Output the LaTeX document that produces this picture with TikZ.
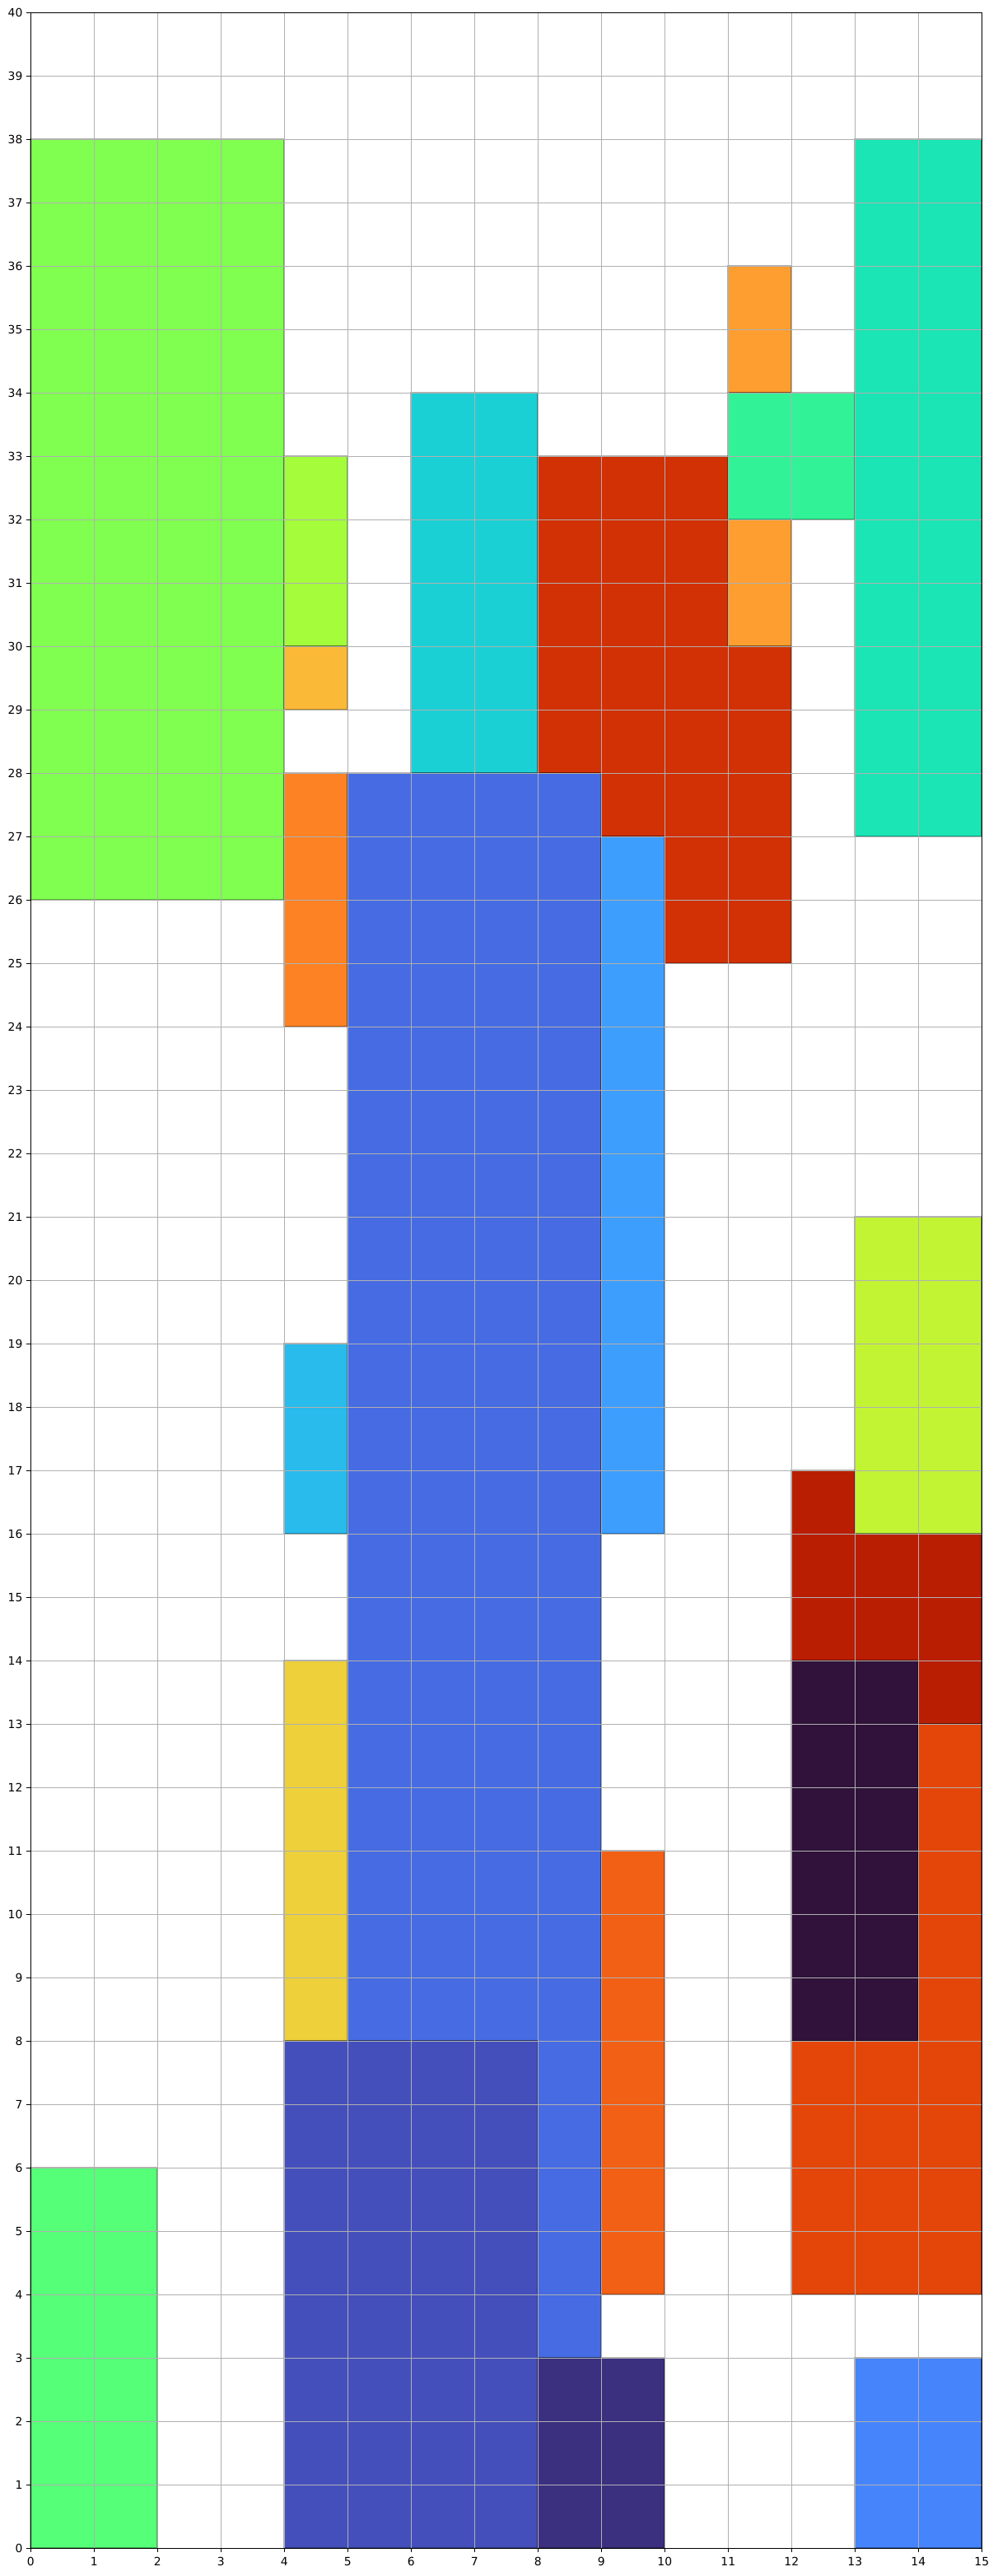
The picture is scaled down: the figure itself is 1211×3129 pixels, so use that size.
\documentclass[tikz,border=0pt]{standalone}
\usepackage{fontspec}
\setmainfont{DejaVu Sans}
\definecolor{lgreen}{HTML}{80FF50}
\definecolor{bgreen}{HTML}{55FF78}
\definecolor{tealr}{HTML}{1BE5B5}
\definecolor{tealg}{HTML}{32F298}
\definecolor{orng}{HTML}{FE9E30}
\definecolor{cyanb}{HTML}{1BD0D5}
\definecolor{redm}{HTML}{D23005}
\definecolor{ygreen}{HTML}{A4FC3B}
\definecolor{yorng}{HTML}{FBB938}
\definecolor{orngb}{HTML}{FD8224}
\definecolor{royal}{HTML}{466BE3}
\definecolor{lblue}{HTML}{3E9EFE}
\definecolor{skyb}{HTML}{28BBEC}
\definecolor{yell}{HTML}{EDD03A}
\definecolor{orngc}{HTML}{F26016}
\definecolor{limeg}{HTML}{C2F434}
\definecolor{dred}{HTML}{BA1E02}
\definecolor{dpurp}{HTML}{30123B}
\definecolor{orred}{HTML}{E4460A}
\definecolor{bluebr}{HTML}{4684FC}
\definecolor{slateb}{HTML}{444FBC}
\definecolor{dblue}{HTML}{3B2F80}
\definecolor{gridc}{HTML}{B0B0B0}
\tikzset{
  cell/.style={draw=black, draw opacity=0.3, line width=2pt},
  gridline/.style={draw=gridc, line width=1.1pt},
  tickline/.style={draw=black, line width=1.1pt},
  spine/.style={draw=black, line width=1.1pt},
  lab/.style={inner sep=0pt, font=\fontsize{13.9}{16}\selectfont}
}
\begin{document}
\begin{tikzpicture}[x=1pt,y=1pt]
\useasboundingbox (0,0) rectangle (1211,3129);
\fill[white] (0,0) rectangle (1211,3129);
\begin{scope}[shift={(37.3,33.7)}, x=77pt, y=77pt]
  % cells
  \fill[lgreen, cell] (0,26) rectangle (4,38);
  \fill[bgreen, cell] (0,0) rectangle (2,6);
  \fill[tealr, cell] (13,27) rectangle (15,38);
  \fill[orng, cell] (11,34) rectangle (12,36);
  \fill[orng, cell] (11,30) rectangle (12,32);
  \fill[tealg, cell] (11,32) rectangle (13,34);
  \fill[cyanb, cell] (6,28) rectangle (8,34);
  \fill[redm, cell] (8,33) -- (11,33) -- (11,30) -- (12,30) -- (12,25) -- (10,25) -- (10,27) -- (9,27) -- (9,28) -- (8,28) -- cycle;
  \fill[ygreen, cell] (4,30) rectangle (5,33);
  \fill[yorng, cell] (4,29) rectangle (5,30);
  \fill[orngb, cell] (4,24) rectangle (5,28);
  \fill[royal, cell] (5,28) -- (9,28) -- (9,3) -- (8,3) -- (8,8) -- (5,8) -- cycle;
  \fill[lblue, cell] (9,16) rectangle (10,27);
  \fill[skyb, cell] (4,16) rectangle (5,19);
  \fill[yell, cell] (4,8) rectangle (5,14);
  \fill[slateb, cell] (4,0) rectangle (8,8);
  \fill[dblue, cell] (8,0) rectangle (10,3);
  \fill[orngc, cell] (9,4) rectangle (10,11);
  \fill[limeg, cell] (13,16) rectangle (15,21);
  \fill[dred, cell] (12,17) -- (13,17) -- (13,16) -- (15,16) -- (15,13) -- (14,13) -- (14,14) -- (12,14) -- cycle;
  \fill[dpurp, cell] (12,8) rectangle (14,14);
  \fill[orred, cell] (14,13) -- (15,13) -- (15,4) -- (12,4) -- (12,8) -- (14,8) -- cycle;
  \fill[bluebr, cell] (13,0) rectangle (15,3);
  % grid
  \foreach \i in {1,...,14} \draw[gridline] (\i,0) -- (\i,40);
  \foreach \j in {1,...,39} \draw[gridline] (0,\j) -- (15,\j);
  % ticks and labels
  \foreach \i in {0,...,15} {
    \draw[tickline] (\i,0) -- ++(0,-4.86pt);
    \node[lab, anchor=base] (xl\i) at ([yshift=-21.4pt]\i,0) {\i};
  }
  \foreach \j in {0,...,40} {
    \draw[tickline] (0,\j) -- ++(-4.86pt,0);
    \node[lab, anchor=base east] (yl\j) at ([xshift=-9.7pt,yshift=-5pt]0,\j) {\j};
  }
  \draw[spine] (0,0) rectangle (15,40);
\end{scope}
\end{tikzpicture}
\end{document}
